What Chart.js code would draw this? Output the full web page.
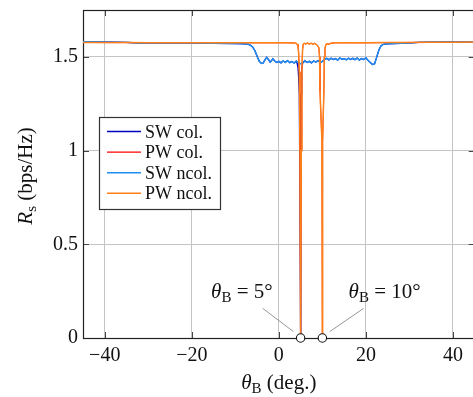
<!DOCTYPE html>
<html>
<head>
<meta charset="utf-8">
<script src="https://cdn.jsdelivr.net/npm/chart.js@4.4.1/dist/chart.umd.min.js"></script>
<style>
  html, body { margin: 0; padding: 0; background: #fff; overflow: hidden; }
  #wrap { width: 473px; height: 397px; overflow: hidden; }
  canvas { display: block; }
</style>
</head>
<body>
<div id="wrap"><canvas id="c" width="480" height="397"></canvas></div>
<script>
/* Secrecy rate vs. beam angle: SW / PW, with and without collision */
var SERIF = "'Liberation Serif', 'Times New Roman', serif";

var xTicks = [-40, -20, 0, 20, 40];
var yTicks = [0, 0.5, 1, 1.5];
var seriesNames = ["SW col.", "PW col.", "SW ncol.", "PW ncol."];
var seriesColors = ["#0000c0", "#ff0000", "#1e8ff0", "#ff8019"];

// SW ncol.
var swX = [-45, -40, -35, -32, -30, -25, -20, -15, -10, -8,
  -7, -6.5, -6, -5.5, -5, -4.5, -4, -3.6, -3.2, -2.8,
  -2.4, -2, -1.7, -1.4, -1, -0.5, 0, 0.5, 1, 1.5,
  2, 2.5, 3, 3.5, 4, 4.5, 5, 5.5, 6, 6.5,
  7, 7.5, 8, 8.5, 9, 9.5, 10, 10.5, 11, 11.5,
  12, 12.5, 13, 13.5, 14, 14.5, 15, 15.5, 16, 16.5,
  17, 17.5, 18, 18.5, 19, 19.5, 20, 20.5, 21, 21.5,
  22, 22.5, 23, 23.5, 24, 25, 28, 30, 32, 35,
  40, 45];
var swY = [1.581, 1.580, 1.577, 1.574, 1.573, 1.573, 1.573, 1.572, 1.571, 1.569,
  1.567, 1.562, 1.552, 1.533, 1.503, 1.476, 1.465, 1.467, 1.484, 1.497,
  1.486, 1.472, 1.479, 1.490, 1.479, 1.470, 1.476, 1.468, 1.478, 1.471,
  1.480, 1.469, 1.475, 1.467, 1.477, 1.470, 1.462, 1.472, 1.479, 1.470,
  1.476, 1.468, 1.478, 1.472, 1.480, 1.470, 1.476, 1.486, 1.492, 1.484,
  1.493, 1.486, 1.491, 1.483, 1.494, 1.487, 1.490, 1.484, 1.493, 1.486,
  1.492, 1.485, 1.494, 1.483, 1.491, 1.486, 1.495, 1.481, 1.470, 1.459,
  1.463, 1.500, 1.538, 1.559, 1.567, 1.570, 1.572, 1.574, 1.577, 1.579,
  1.580, 1.581];

// SW col.: same as SW ncol. except the collapse at 5 deg
var swDipX = [4.2, 4.4, 4.55, 4.7, 4.85, 5.0, 5.05, 5.12, 5.25, 5.5, 5.8];
var swDipY = [1.466, 1.442, 1.392, 1.300, 0.700, 0.000, 0.700, 1.300, 1.440, 1.468, 1.475];

// PW (col. and ncol. overlap)
var pwX = [-45, -40, -35, -30, -20, -10, -5, 0, 2, 3.5,
  4.0, 4.2, 4.4, 4.55, 4.7, 4.85, 5.0, 5.15, 5.3, 5.45,
  5.6, 5.8, 6.2, 6.6, 7.0, 7.4, 7.8, 8.2, 8.6, 8.9,
  9.2, 9.35, 9.45, 9.9, 10.0, 10.05, 10.35, 10.45, 10.6, 10.8,
  11.1, 11.5, 12, 13, 15, 20, 25, 30, 35, 40,
  45];
var pwY = [1.577, 1.576, 1.576, 1.575, 1.575, 1.575, 1.575, 1.575, 1.575, 1.574,
  1.572, 1.568, 1.556, 1.520, 1.420, 1.000, 0.000, 1.000, 1.430, 1.540,
  1.566, 1.572, 1.569, 1.574, 1.568, 1.573, 1.567, 1.572, 1.566, 1.560,
  1.548, 1.500, 1.320, 1.050, 0.000, 1.050, 1.320, 1.500, 1.545, 1.566,
  1.570, 1.568, 1.573, 1.575, 1.575, 1.575, 1.576, 1.577, 1.578, 1.578,
  1.579];

// user angles marked on the axis
var markX = [5, 10];
var markY = [0, 0];

function pts(xs, ys) { return xs.map(function (x, i) { return { x: x, y: ys[i] }; }); }

function withDip(xs, ys, dx, dy) {
  var lo = dx[0], hi = dx[dx.length - 1];
  var out = pts(xs, ys).filter(function (p) { return p.x < lo || p.x > hi; });
  return out.concat(pts(dx, dy)).sort(function (a, b) { return a.x - b.x; });
}

// text with an italic symbol and an upright subscript
function mathText(ctx, parts, cx, y) {
  var w = 0;
  parts.forEach(function (p) { ctx.font = p.f; p.w = ctx.measureText(p.t).width; w += p.w; });
  var x = cx - w / 2;
  parts.forEach(function (p) { ctx.font = p.f; ctx.fillText(p.t, x, y + (p.dy || 0)); x += p.w; });
}
function sym(s) { return { t: s, f: "italic 21px " + SERIF }; }
function sub(s) { return { t: s, f: "15px " + SERIF, dy: 3.5 }; }
function txt(s) { return { t: s, f: "21px " + SERIF }; }

var notes = [
  { val: "5", x: -8.5, y: 0.213, from: [-3.7, 0.158], to: [3.35, 0.034] },
  { val: "10", x: 24.3, y: 0.213, from: [19.45, 0.158], to: [11.7, 0.034] }
];

var decor = {
  id: "decor",
  beforeDatasetsDraw: function (chart) {
    var ctx = chart.ctx, a = chart.chartArea, sx = chart.scales.x, sy = chart.scales.y;
    ctx.save();
    ctx.strokeStyle = "#444"; ctx.lineWidth = 1;
    ctx.beginPath();
    xTicks.forEach(function (v) {
      var p = Math.round(sx.getPixelForValue(v)) + 0.5;
      ctx.moveTo(p, a.bottom); ctx.lineTo(p, a.bottom - 6);
      ctx.moveTo(p, a.top); ctx.lineTo(p, a.top + 6);
    });
    yTicks.forEach(function (v) {
      var p = Math.round(sy.getPixelForValue(v)) + 0.5;
      ctx.moveTo(a.left, p); ctx.lineTo(a.left + 6, p);
      ctx.moveTo(a.right, p); ctx.lineTo(a.right - 6, p);
    });
    ctx.stroke();
    ctx.strokeStyle = "#222"; ctx.lineWidth = 1.2;
    ctx.strokeRect(Math.round(a.left) + 0.5, Math.round(a.top) + 0.5, Math.round(a.right - a.left), Math.round(a.bottom - a.top));
    ctx.restore();
  },
  afterDatasetsDraw: function (chart) {
    var ctx = chart.ctx, a = chart.chartArea, sx = chart.scales.x, sy = chart.scales.y;
    ctx.save();
    ctx.fillStyle = "#111";
    ctx.textBaseline = "alphabetic";

    // labels pointing at the marked angles
    notes.forEach(function (n) {
      ctx.strokeStyle = "#8a8a8a"; ctx.lineWidth = 0.9;
      ctx.beginPath();
      ctx.moveTo(sx.getPixelForValue(n.from[0]), sy.getPixelForValue(n.from[1]));
      ctx.lineTo(sx.getPixelForValue(n.to[0]), sy.getPixelForValue(n.to[1]));
      ctx.stroke();
      mathText(ctx, [sym("\u03b8"), sub("B"), txt(" = " + n.val + "\u00b0")], sx.getPixelForValue(n.x), sy.getPixelForValue(n.y));
    });

    // legend box
    var lx = a.left + 16, ly = a.top + 107, lw = 121, lh = 92;
    ctx.fillStyle = "#fff";
    ctx.fillRect(lx, ly, lw, lh);
    ctx.strokeStyle = "#333"; ctx.lineWidth = 1.2;
    ctx.strokeRect(lx + 0.5, ly + 0.5, lw, lh);
    seriesNames.forEach(function (name, i) {
      var ry = ly + 14.5 + i * 20.6;
      ctx.strokeStyle = seriesColors[i]; ctx.lineWidth = 1.4;
      ctx.beginPath(); ctx.moveTo(lx + 8, ry); ctx.lineTo(lx + 42, ry); ctx.stroke();
      ctx.fillStyle = "#111";
      ctx.font = "18px " + SERIF;
      ctx.fillText(name, lx + 46, ry + 6);
    });

    // axis titles
    ctx.fillStyle = "#111";
    mathText(ctx, [sym("\u03b8"), sub("B"), txt(" (deg.)")], (a.left + a.right) / 2, 389);
    ctx.translate(32, 176);
    ctx.rotate(-Math.PI / 2);
    mathText(ctx, [sym("R"), sub("s"), txt(" (bps/Hz)")], 0, 0);
    ctx.restore();
  }
};

function line(i, data, width, order) {
  return { label: seriesNames[i], data: data, borderColor: seriesColors[i], borderWidth: width,
    pointRadius: 0, tension: 0, order: order };
}

// fixed axis sizes, no extra room for edge labels
function noPad(s) { s.paddingTop = 0; s.paddingBottom = 0; s.paddingLeft = 0; s.paddingRight = 0; }

new Chart(document.getElementById("c"), {
  type: "line",
  data: {
    datasets: [
      { label: "marks", type: "scatter", data: pts(markX, markY), pointRadius: 4.2, pointBorderColor: "#111",
        pointBackgroundColor: "#fff", pointBorderWidth: 1.1, clip: false, order: 0 },
      line(3, pts(pwX, pwY), 1.5, 1),
      line(2, pts(swX, swY), 1.4, 2),
      line(1, pts(pwX, pwY), 0.9, 3),
      line(0, withDip(swX, swY, swDipX, swDipY), 1.3, 4)
    ]
  },
  options: {
    responsive: false,
    animation: false,
    devicePixelRatio: 1,
    layout: { padding: { top: 10, right: 1, left: 0, bottom: 0 } },
    plugins: { legend: { display: false }, tooltip: { enabled: false } },
    scales: {
      x: {
        type: "linear", min: -45, max: 45,
        afterBuildTicks: function (s) { s.ticks = xTicks.map(function (v) { return { value: v }; }); },
        afterFit: function (s) { s.height = 59; noPad(s); },
        grid: { color: "#c4c4c4", drawTicks: false },
        border: { display: false },
        ticks: {
          padding: 6, color: "#111", font: { family: SERIF, size: 20 }, maxRotation: 0,
          callback: function (v) { return v < 0 ? "\u2212" + (-v) : String(v); }
        }
      },
      y: {
        type: "linear", min: 0, max: 1.75,
        afterBuildTicks: function (s) { s.ticks = yTicks.map(function (v) { return { value: v }; }); },
        afterFit: function (s) { s.width = 83; noPad(s); },
        grid: { color: "#c4c4c4", drawTicks: false },
        border: { display: false },
        ticks: {
          padding: 5, color: "#111", font: { family: SERIF, size: 20 },
          callback: function (v) { return String(v); }
        }
      }
    }
  },
  plugins: [decor]
});
</script>
</body>
</html>
